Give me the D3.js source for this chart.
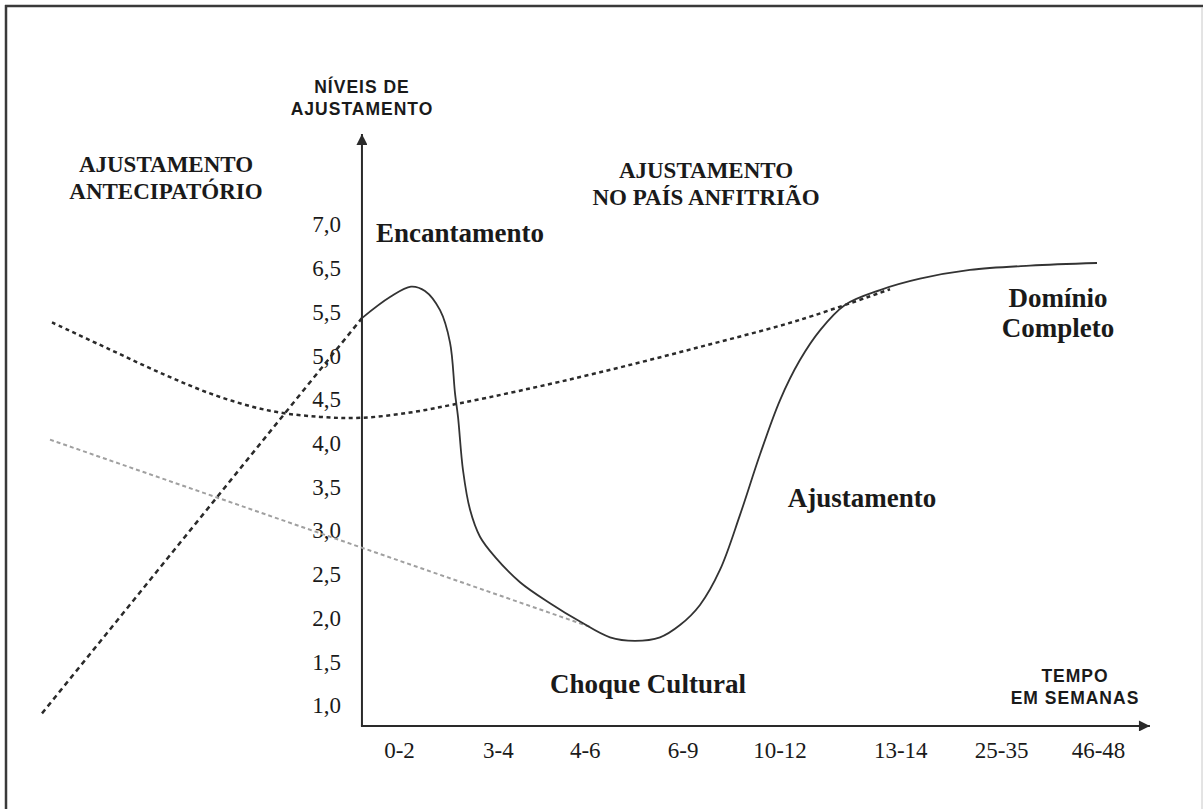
<!DOCTYPE html>
<html>
<head>
<meta charset="utf-8">
<script src="https://cdn.jsdelivr.net/npm/d3@7"></script>
<style>
  html, body { margin: 0; padding: 0; background: #fff; }
  svg { display: block; }
</style>
</head>
<body>
<svg id="chart" width="1203" height="809"></svg>
<script>
// ---------- data ----------
const xLabels = ["0-2", "3-4", "4-6", "6-9", "10-12", "13-14", "25-35", "46-48"];
const xTickPos = [0, 0.99, 1.86, 2.84, 3.81, 5.02, 6.03, 7];
const yLabels = ["1,0", "1,5", "2,0", "2,5", "3,0", "3,5", "4,0", "4,5", "5,0", "5,5", "6,5", "7,0"];
const yTickPos = [1, 1.5, 2, 2.5, 3, 3.5, 4, 4.5, 5, 5.5, 6, 6.5];

// main adjustment curve (solid) – [x, level]
const adjustCurve = [
  [-0.371, 5.43], [-0.09, 5.67], [0.12, 5.79], [0.26, 5.74], [0.411, 5.52],
  [0.511, 5.15], [0.561, 4.57], [0.591, 4.30], [0.641, 3.69], [0.711, 3.24],
  [0.811, 2.93], [0.961, 2.70], [1.212, 2.41], [1.512, 2.17], [1.813, 1.96],
  [2.113, 1.78], [2.363, 1.74], [2.614, 1.78], [2.814, 1.92], [3.014, 2.15],
  [3.214, 2.55], [3.415, 3.18], [3.615, 3.87], [3.815, 4.49], [4.015, 4.95],
  [4.216, 5.29], [4.466, 5.58], [4.817, 5.75], [5.217, 5.88], [5.718, 5.98],
  [6.319, 6.03], [6.99, 6.06]
];
// U-shaped dotted curve
const uCurve = [
  [-3.475, 5.38], [-2.894, 5.07], [-2.343, 4.78], [-1.823, 4.54], [-1.292, 4.37],
  [-0.791, 4.30], [-0.371, 4.29], [0.11, 4.35], [0.581, 4.45], [1.212, 4.60],
  [2.013, 4.81], [3.014, 5.10], [4.016, 5.41], [4.917, 5.76]
];
// anticipatory rising dashed line
const anticipLine = [[-3.575, 0.91], [-0.371, 5.43]];
// grey dotted descending line
const greyLine = [[-3.495, 4.04], [1.913, 1.90]];
// axis extents [x origin, y origin, x end, y end]
const axisExtent = [-0.371, 0.766, 7.52, 7.535];

// ---------- scales ----------
const svg = d3.select("#chart");
const x = d3.scaleLinear().domain([0, 7]).range([399, 1098]);
const y = d3.scaleLinear().domain([1, 6.5]).range([705.5, 224.5]);
const ink = "#1a1a1a";

// frame
svg.append("line").attr("x1", 5).attr("x2", 1203).attr("y1", 6).attr("y2", 6)
  .attr("stroke", "#3a3a3a").attr("stroke-width", 2.5);
svg.append("line").attr("x1", 6).attr("x2", 6).attr("y1", 5).attr("y2", 809)
  .attr("stroke", "#3a3a3a").attr("stroke-width", 2.5);
svg.append("line").attr("x1", 1202).attr("x2", 1202).attr("y1", 7).attr("y2", 809)
  .attr("stroke", "#c8c8c8").attr("stroke-width", 1);

// arrow markers
const defs = svg.append("defs");
defs.append("marker").attr("id", "arrow")
  .attr("viewBox", "0 0 10 10").attr("refX", 10).attr("refY", 5)
  .attr("markerUnits", "userSpaceOnUse")
  .attr("markerWidth", 12).attr("markerHeight", 11).attr("orient", "auto")
  .append("path").attr("d", "M0,0 L10,5 L0,10 Z").attr("fill", "#2a2a2a");

// axes lines
const [x0, y0, x1e, y1e] = axisExtent;
svg.append("line")
  .attr("x1", x(x0)).attr("y1", y(y0)).attr("x2", x(x0)).attr("y2", y(y1e))
  .attr("stroke", "#2a2a2a").attr("stroke-width", 2).attr("marker-end", "url(#arrow)");
svg.append("line")
  .attr("x1", x(x0) - 1).attr("y1", y(y0)).attr("x2", x(x1e)).attr("y2", y(y0))
  .attr("stroke", "#2a2a2a").attr("stroke-width", 2).attr("marker-end", "url(#arrow)");

// tick label axes
const yAxis = d3.axisLeft(y).tickValues(yTickPos)
  .tickFormat((d, i) => yLabels[i]).tickSize(0).tickPadding(21);
const gy = svg.append("g").attr("transform", `translate(${x(x0)},0)`).call(yAxis);
gy.select(".domain").remove();
gy.selectAll("text").attr("font-family", "'Liberation Serif', 'Times New Roman', serif")
  .attr("font-size", 23).attr("fill", ink);

const xAxis = d3.axisBottom(x).tickValues(xTickPos)
  .tickFormat((d, i) => xLabels[i]).tickSize(0).tickPadding(16);
const gx = svg.append("g").attr("transform", `translate(0,${y(y0)})`).call(xAxis);
gx.select(".domain").remove();
gx.selectAll("text").attr("font-family", "'Liberation Serif', 'Times New Roman', serif")
  .attr("font-size", 23).attr("fill", ink);

// ---------- lines ----------
const line = d3.line().x(d => x(d[0])).y(d => y(d[1]));
const smooth = d3.line().x(d => x(d[0])).y(d => y(d[1])).curve(d3.curveCatmullRom.alpha(0.5));

svg.append("path").datum(greyLine).attr("d", line)
  .attr("fill", "none").attr("stroke", "#a0a0a0").attr("stroke-width", 2)
  .attr("stroke-dasharray", "4 3");
svg.append("path").datum(anticipLine).attr("d", line)
  .attr("fill", "none").attr("stroke", "#2a2a2a").attr("stroke-width", 2.5)
  .attr("stroke-dasharray", "5 4");
svg.append("path").datum(uCurve).attr("d", smooth)
  .attr("fill", "none").attr("stroke", "#2a2a2a").attr("stroke-width", 2.5)
  .attr("stroke-dasharray", "4 3.5");
svg.append("path").datum(adjustCurve).attr("d", smooth)
  .attr("fill", "none").attr("stroke", "#333").attr("stroke-width", 1.8);

// ---------- text labels ----------
const serifB = "'Liberation Serif', 'Times New Roman', serif";
const sansB = "'Liberation Sans', Arial, sans-serif";
function label(lines, cx, by, size, family, anchor, spacing) {
  const t = svg.append("text").attr("font-family", family).attr("font-weight", "bold")
    .attr("font-size", size).attr("fill", ink).attr("text-anchor", anchor || "middle");
  if (spacing) t.attr("letter-spacing", spacing);
  lines.forEach((s, i) => {
    t.append("tspan").attr("x", cx).attr("y", by[i]).text(s);
  });
}
label(["NÍVEIS DE", "AJUSTAMENTO"], 362, [93, 115], 17.5, sansB, "middle", 1);
label(["AJUSTAMENTO", "ANTECIPATÓRIO"], 166, [172, 199], 23, serifB);
label(["AJUSTAMENTO", "NO PAÍS ANFITRIÃO"], 706, [178, 205], 23, serifB);
label(["Encantamento"], 376, [242], 27, serifB, "start");
label(["Choque Cultural"], 648, [693], 27, serifB);
label(["Ajustamento"], 862, [507], 27, serifB);
label(["Domínio", "Completo"], 1058, [307, 337], 27, serifB);
label(["TEMPO", "EM SEMANAS"], 1075, [682, 704], 17.5, sansB, "middle", 1);
</script>
</body>
</html>
